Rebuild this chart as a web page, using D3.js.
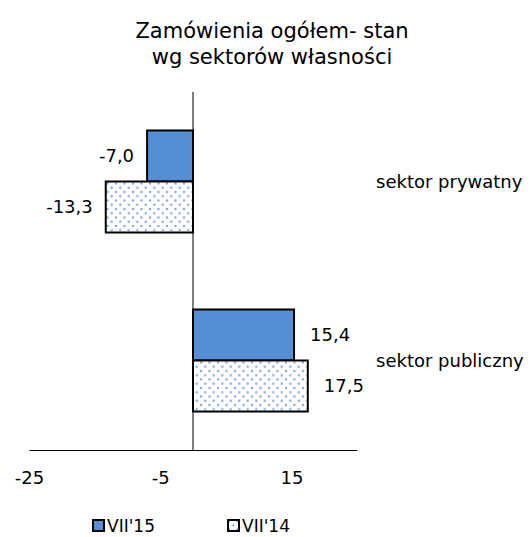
<html>
<head>
	<meta charset="UTF-8">
	<title>Zamówienia ogółem</title>
	<style>
		body { margin: 0; background: #fff; }
		text { font-family: "DejaVu Sans", sans-serif; fill: #000; }
	</style>
</head>
<body>
	<script src="https://cdnjs.cloudflare.com/ajax/libs/d3/7.8.5/d3.min.js"></script>
	<script>
		var categories = ["sektor prywatny", "sektor publiczny"];
		var seriesNames = ["VII'15", "VII'14"];
		var vii15 = [-7.0, 15.4];
		var vii14 = [-13.3, 17.5];
		var tickValues = [-25, -5, 15];

		var W = 531, H = 537;
		var margin = {top: 92, left: 29, right: 174, bottom: 87};
		var width = W - margin.left - margin.right,
			height = H - margin.top - margin.bottom;

		var blue = "#558ed5";
		var pl = d3.formatLocale({decimal: ",", thousands: " ", grouping: [3], currency: ["", ""], minus: "-"});
		var fmt = pl.format(".1f"), tickFmt = pl.format("d");

		var svg = d3.select("body").append("svg")
			.attr("width", W)
			.attr("height", H);

		// dotted fill for the second series
		var pat = svg.append("defs").append("pattern")
			.attr("id", "dots")
			.attr("patternUnits", "userSpaceOnUse")
			.attr("width", 8.5)
			.attr("height", 8.5);
		pat.append("rect").attr("width", 8.5).attr("height", 8.5).attr("fill", "#fff");
		pat.append("rect").attr("x", 1).attr("y", 1).attr("width", 2).attr("height", 2).attr("fill", "#6b9ddd");
		pat.append("rect").attr("x", 5.25).attr("y", 5.25).attr("width", 2).attr("height", 2).attr("fill", "#6b9ddd");

		// title
		var title = svg.append("text")
			.attr("text-anchor", "middle")
			.style("font-size", "21px");
		title.append("tspan").attr("x", 272).attr("y", 38).text("Zamówienia ogółem- stan");
		title.append("tspan").attr("x", 272).attr("y", 64).text("wg sektorów własności");

		var g = svg.append("g")
			.attr("transform", "translate(" + margin.left + "," + margin.top + ")");

		var x = d3.scaleLinear()
			.domain([-25, 25])
			.range([0, width]);

		var y = d3.scaleBand()
			.domain(categories)
			.range([0, height])
			.paddingInner(0.43)
			.paddingOuter(0.215);

		var data = categories.map(function(c, i) {
			return {cat: c, values: [vii15[i], vii14[i]]};
		});

		var sub = d3.scaleBand()
			.domain([0, 1])
			.range([0, y.bandwidth()]);

		var groups = g.selectAll(".grp")
			.data(data)
			.enter().append("g")
			.attr("class", "grp")
			.attr("transform", function(d) { return "translate(0," + y(d.cat) + ")"; });

		groups.selectAll("rect")
			.data(function(d) { return d.values; })
			.enter().append("rect")
			.attr("x", function(v) { return x(Math.min(0, v)); })
			.attr("y", function(v, i) { return sub(i); })
			.attr("width", function(v) { return Math.abs(x(v) - x(0)); })
			.attr("height", sub.bandwidth())
			.attr("fill", function(v, i) { return i === 0 ? blue : "url(#dots)"; })
			.attr("stroke", "#000")
			.attr("stroke-width", 2);

		groups.selectAll(".lbl")
			.data(function(d) { return d.values; })
			.enter().append("text")
			.attr("class", "lbl")
			.attr("x", function(v) { return v < 0 ? x(v) - 13 : x(v) + 16; })
			.attr("y", function(v, i) { return sub(i) + sub.bandwidth() / 2; })
			.attr("dy", "0.35em")
			.attr("text-anchor", function(v) { return v < 0 ? "end" : "start"; })
			.style("font-size", "18px")
			.text(function(v) { return fmt(v); });

		// zero line
		g.append("line")
			.attr("x1", x(0)).attr("x2", x(0))
			.attr("y1", 0).attr("y2", height)
			.attr("stroke", "#000");

		// x axis
		var xAxis = g.append("g")
			.attr("transform", "translate(0," + height + ")")
			.call(d3.axisBottom(x).tickValues(tickValues).tickFormat(tickFmt).tickSize(0).tickPadding(21));
		xAxis.select(".domain").attr("stroke", "#000");
		xAxis.selectAll("text").style("font-size", "18px").attr("font-family", null);

		// category labels on the right
		g.selectAll(".cat")
			.data(categories)
			.enter().append("text")
			.attr("class", "cat")
			.attr("x", width + 19)
			.attr("y", function(c) { return y(c) + y.bandwidth() / 2; })
			.attr("dy", "0.35em")
			.style("font-size", "18px")
			.text(function(c) { return c; });

		// legend
		var legend = svg.append("g").attr("transform", "translate(92,519)");
		var items = legend.selectAll("g")
			.data(seriesNames)
			.enter().append("g")
			.attr("transform", function(d, i) { return "translate(" + (i * 135) + ",0)"; });
		items.append("rect")
			.attr("x", 1).attr("y", 1)
			.attr("width", 11).attr("height", 11)
			.attr("fill", function(d, i) { return i === 0 ? blue : "url(#dots)"; })
			.attr("stroke", "#000")
			.attr("stroke-width", 2);
		items.append("text")
			.attr("x", 15)
			.attr("y", 13)
			.style("font-size", "17px")
			.text(function(d) { return d; });
	</script>
</body>
</html>
